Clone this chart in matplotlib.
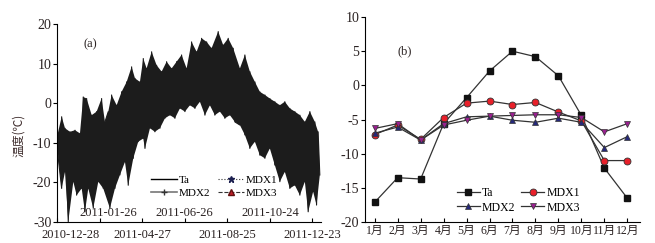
import matplotlib
matplotlib.use("Agg")
import matplotlib.pyplot as plt
from matplotlib.lines import Line2D
import numpy as np

plt.rcParams['font.family'] = ['Liberation Serif', 'Noto Sans CJK SC', 'DejaVu Sans']
plt.rcParams['axes.unicode_minus'] = False

# ---------------- panel (a): hourly series envelope (day index) ----------------
hi_day = [0, 6.6, 11.3, 18.3, 25.4, 32.4, 37.0, 41.8, 48.9, 55.9, 62.9, 67.6, 72.3, 77.0,
          84.1, 91.1, 98.2, 105.2, 109.9, 116.9, 121.6, 126.3, 133.4, 140.4, 147.5, 154.5,
          161.6, 168.6, 175.6, 182.7, 189.7, 196.8, 203.8, 210.9, 217.9, 227.2, 234.2,
          241.3, 248.3, 257.8, 264.8, 271.8, 278.9, 285.9, 293.0, 300.0, 307.0, 314.1,
          321.1, 328.2, 335.2, 342.3, 349.3, 356.4, 363.4, 368.0]
hi_val = [-8.5, -3.4, -6.3, -7.2, -6.8, -7.6, 1.6, 1.2, -3.0, -2.1, 1.2, -4.7, -2.1, 2.1,
          -0.5, 2.9, 5.4, 9.2, 6.3, 5.4, 11.3, 8.8, 13.0, 9.6, 8.0, 10.5, 8.8, 10.5, 12.2,
          8.8, 15.5, 13.0, 16.4, 15.5, 13.9, 18.1, 14.7, 16.4, 13.9, 8.8, 12.2, 8.0, 5.4,
          2.9, 2.1, 1.2, 0.4, -0.5, 0.4, -1.3, -2.1, -3.0, -4.7, -2.1, -4.7, -7.2]
lo_day = [1.8, 6.6, 11.3, 15.9, 23.0, 27.7, 34.8, 39.4, 44.1, 51.1, 58.2, 65.2, 74.6, 81.7,
          88.7, 95.8, 100.4, 107.5, 114.5, 121.6, 124.0, 131.0, 138.0, 145.1, 152.1, 159.2,
          166.2, 173.2, 180.3, 187.3, 194.4, 201.4, 208.5, 215.5, 222.5, 229.6, 236.6,
          243.7, 250.7, 257.8, 264.8, 271.8, 278.9, 285.9, 293.0, 300.0, 307.0, 314.1,
          321.1, 328.2, 335.2, 342.3, 349.3, 354.0, 361.0, 365.8, 370.4]
lo_val = [-13.9, -21.5, -17.3, -29.9, -19.8, -23.2, -21.5, -27.4, -21.5, -26.5, -19.8, -21.5,
          -26.5, -21.5, -18.1, -14.8, -20.7, -13.9, -9.7, -8.9, -11.4, -6.3, -7.2, -6.3, -3.8,
          -3.0, -3.8, -1.3, -2.1, -0.5, -1.3, 0.4, -3.0, -0.5, -3.0, -2.1, -3.8, -3.0, -4.7,
          -5.5, -8.0, -11.4, -9.7, -13.1, -13.9, -11.4, -15.6, -19.8, -17.3, -21.5, -20.7,
          -23.2, -19.8, -27.4, -22.3, -25.7, -18.1]
a_tick_days = [0, 60, 120, 180, 240, 300, 360]
a_tick_labels = ['2010-12-28', '2011-01-26', '2011-04-27', '2011-06-26',
                 '2011-08-25', '2011-10-24', '2011-12-23']
a_series = ['Ta', 'MDX1', 'MDX2', 'MDX3']

# ---------------- panel (b): monthly means ----------------
months = ['1月', '2月', '3月', '4月', '5月', '6月', '7月', '8月', '9月', '10月', '11月', '12月']
ta = [-17.1, -13.5, -13.7, -5.6, -1.8, 2.1, 5.0, 4.2, 1.4, -4.4, -12.1, -16.5]
mdx1 = [-7.2, -5.8, -7.9, -4.7, -2.6, -2.3, -2.8, -2.5, -3.9, -5.2, -11.0, -11.0]
mdx2 = [-7.0, -6.1, -8.0, -5.6, -4.6, -4.5, -5.1, -5.4, -4.8, -5.4, -9.1, -7.5]
mdx3 = [-6.3, -5.6, -8.0, -5.8, -5.1, -4.5, -4.4, -4.3, -4.3, -4.7, -6.8, -5.6]

txt = '#2a2222'
fig = plt.figure(figsize=(6.55, 2.43), dpi=100)
ax1 = fig.add_axes([0.087, 0.086, 0.403, 0.815])
ax2 = fig.add_axes([0.557, 0.086, 0.420, 0.844])

for ax in (ax1, ax2):
    ax.spines['top'].set_visible(False)
    ax.spines['right'].set_visible(False)
    ax.spines['left'].set_linewidth(0.8)
    ax.spines['bottom'].set_linewidth(0.8)
    ax.tick_params(axis='y', direction='out', length=3, width=0.8, labelsize=10, pad=1,
                   labelcolor=txt)
    ax.tick_params(axis='x', direction='in', length=3, width=0.8, labelsize=9, pad=2,
                   labelcolor=txt)

# panel a drawing
poly_x = list(hi_day) + list(lo_day[::-1])
poly_y = list(hi_val) + list(lo_val[::-1])
ax1.fill(poly_x, poly_y, color='#1c1c1c', lw=0)
pts = sorted(list(zip(hi_day, hi_val)) + list(zip(lo_day, lo_val)))
ax1.plot([p[0] for p in pts], [p[1] for p in pts], color='#1c1c1c', lw=0.8)
ax1.set_xlim(0, 372)
ax1.set_ylim(-30, 20)
ax1.set_yticks([-30, -20, -10, 0, 10, 20])
ax1.set_xticks(a_tick_days)
ax1.set_xticklabels(['' for _ in a_tick_days])
for i, (d, lab) in enumerate(zip(a_tick_days, a_tick_labels)):
    if i % 2 == 0:
        off = 10 if i == 0 else 0
        ax1.annotate(lab, (d, 0), xycoords=('data', 'axes fraction'), xytext=(off, -5),
                     textcoords='offset points', ha='center', va='top', fontsize=9, color=txt)
    else:
        off = 6 if i == 1 else 0
        ax1.annotate(lab, (d, 0), xycoords=('data', 'axes fraction'), xytext=(off, 2),
                     textcoords='offset points', ha='center', va='bottom', fontsize=9, color=txt)
ax1.set_ylabel('温度(℃)', fontsize=8.5, color='#3d2b2b',
               family=['Noto Sans CJK SC', 'DejaVu Sans'])
ax1.yaxis.set_label_coords(-0.12, 0.44)
ax1.text(0.10, 0.90, '(a)', transform=ax1.transAxes, fontsize=9, va='center', color=txt)

handles_a = [
    Line2D([], [], color='black', lw=1.0),
    Line2D([], [], color='#777777', lw=1.2, marker='+', markersize=4, markeredgecolor='#333333'),
    Line2D([], [], color='#333333', lw=0.8, ls=':', marker='*', markersize=5, markerfacecolor='#1c2050', markeredgecolor='#1c2050'),
    Line2D([], [], color='#333333', lw=0.8, ls='--', marker='^', markersize=4, markerfacecolor='#c0202a', markeredgecolor='#601010'),
]
ax1.legend(handles_a, ['Ta', 'MDX2', 'MDX1', 'MDX3'], ncol=2, frameon=False, fontsize=8,
           loc='upper left', bbox_to_anchor=(0.33, 0.27), handlelength=2.4,
           handletextpad=0.1, columnspacing=0.7, labelspacing=0.3, borderpad=0.1)

# panel b drawing
x = np.arange(1, 13)
lc = '#333333'
ax2.plot(x, ta, color=lc, lw=0.9, marker='s', ms=4.5, mfc='#111111', mec='#111111', label='Ta')
ax2.plot(x, mdx1, color=lc, lw=0.9, marker='o', ms=5, mfc='#e8202a', mec='#333333', mew=0.6, label='MDX1')
ax2.plot(x, mdx2, color=lc, lw=0.9, marker='^', ms=5, mfc='#25287a', mec='#333333', mew=0.5, label='MDX2')
ax2.plot(x, mdx3, color=lc, lw=0.9, marker='v', ms=5, mfc='#9a2090', mec='#333333', mew=0.5, label='MDX3')
ax2.set_xlim(0.57, 12.55)
ax2.set_ylim(-20, 10)
ax2.set_yticks([-20, -15, -10, -5, 0, 5, 10])
ax2.set_xticks(x)
ax2.set_xticklabels(months, fontsize=8.5)
ax2.text(0.12, 0.835, '(b)', transform=ax2.transAxes, fontsize=9, va='center', color=txt)
h, l = ax2.get_legend_handles_labels()
ax2.legend([h[0], h[2], h[1], h[3]], [l[0], l[2], l[1], l[3]], ncol=2, frameon=False,
           fontsize=8.5, loc='upper left', bbox_to_anchor=(0.31, 0.205), handlelength=1.9,
           handletextpad=0.2, columnspacing=0.5, labelspacing=0.2, borderpad=0.1)

fig.savefig('out.png', dpi=100)
